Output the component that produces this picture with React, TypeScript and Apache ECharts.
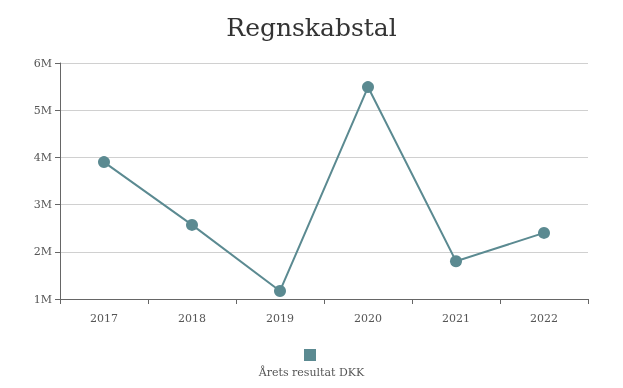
import React, { useEffect, useRef } from "react";
import * as echarts from "echarts";

const categories = ["2017", "2018", "2019", "2020", "2021", "2022"];
const values = [3900000, 2570000, 1170000, 5490000, 1800000, 2400000];
const seriesName = "Årets resultat DKK";
const title = "Regnskabstal";

const FONT = "'DejaVu Serif', 'Liberation Serif', serif";
const COLOR = "#5b8a91";

export default function App() {
  const ref = useRef<HTMLDivElement>(null);
  useEffect(() => {
    if (!ref.current) return;
    const chart = echarts.init(ref.current, null, { renderer: "svg" });
    chart.setOption({
      animation: false,
      textStyle: { fontFamily: FONT },
      title: {
        text: title,
        left: "center",
        top: 10,
        textStyle: { fontFamily: FONT, fontSize: 25, fontWeight: "normal", color: "#333" },
      },
      legend: {
        data: [{ name: seriesName, icon: "rect" }],
        left: 299,
        top: 344,
        itemWidth: 12,
        itemHeight: 12,
        formatter: () => "",
        textStyle: { fontSize: 1 },
        itemStyle: { color: COLOR },
      },
      graphic: [
        {
          type: "text",
          left: "center",
          top: 367,
          style: { text: seriesName, fontFamily: FONT, fontSize: 11, fill: "#555" },
        },
      ],
      grid: { left: 60, right: 35, top: 63, bottom: 89 },
      xAxis: {
        type: "category",
        data: categories,
        boundaryGap: true,
        axisLine: { lineStyle: { color: "#666" } },
        axisTick: { show: true, lineStyle: { color: "#666" } },
        axisLabel: { color: "#555", fontFamily: FONT, fontSize: 11, margin: 14 },
      },
      yAxis: {
        type: "value",
        min: 1000000,
        max: 6000000,
        interval: 1000000,
        axisLine: { show: true, lineStyle: { color: "#666" } },
        axisTick: { show: true, length: 5, lineStyle: { color: "#666" } },
        splitLine: { lineStyle: { color: "#d0d0d0" } },
        axisLabel: {
          color: "#555",
          fontFamily: FONT,
          fontSize: 11,
          margin: 8,
          formatter: (v: number) => v / 1000000 + "M",
        },
      },
      series: [
        {
          name: seriesName,
          type: "line",
          data: values,
          symbol: "circle",
          symbolSize: 12,
          lineStyle: { color: COLOR, width: 2 },
          itemStyle: { color: COLOR },
        },
      ],
    });
    return () => chart.dispose();
  }, []);
  return <div ref={ref} style={{ position: "fixed", left: 0, top: 0, width: 623, height: 388 }} />;
}
